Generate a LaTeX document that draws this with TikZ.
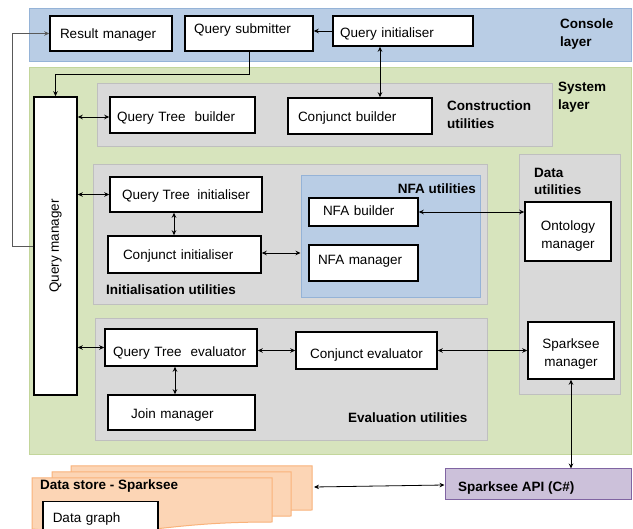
\documentclass[tikz,border=0pt]{standalone}
\usepackage{fontspec}
\usepackage{graphicx}
\setmainfont{Liberation Sans}
\usetikzlibrary{arrows.meta,calc}
\definecolor{consfill}{HTML}{B9CDE5}
\definecolor{consdraw}{HTML}{95B3D7}
\definecolor{sysfill}{HTML}{D7E4BD}
\definecolor{sysdraw}{HTML}{C3D69B}
\definecolor{grfill}{HTML}{D9D9D9}
\definecolor{grdraw}{HTML}{BFBFBF}
\definecolor{apifill}{HTML}{CCC1DA}
\definecolor{apidraw}{HTML}{8064A2}
\definecolor{orfill}{HTML}{FCD5B5}
\definecolor{ordraw}{HTML}{F9B27A}
\begin{document}
\begin{tikzpicture}[x=1pt,y=-1pt,
  font=\fontsize{13.5}{17.5}\selectfont,
  box/.style={draw=black,line width=1.5pt,fill=white,inner sep=0pt,align=center,text height=9.7pt,text depth=0pt},
  lbox/.style={draw=black,line width=1.5pt,fill=white,inner ysep=0pt,align=left,text height=9.7pt,text depth=0pt},
  cont/.style={draw=#1draw,fill=#1fill,line width=1pt,inner sep=0pt},
  lbl/.style={inner sep=0pt,font=\fontsize{13.5}{17.5}\selectfont\bfseries,align=left},
  conn/.style={line width=0.8pt,-{Stealth[length=5pt,width=4.5pt]}},
  biconn/.style={line width=0.8pt,{Stealth[length=5pt,width=4.5pt]}-{Stealth[length=5pt,width=4.5pt]}},
  docshape/.style={draw=ordraw,fill=orfill,line width=1pt}
]
\useasboundingbox (0,0) rectangle (633,529);
\fill[white] (0,0) rectangle (633,529);

% layers
\node[cont=cons,minimum width=602pt,minimum height=53pt] (console) at (330,35.5) {};
\node[cont=sys,minimum width=602pt,minimum height=387pt] (system) at (330,261.5) {};
\node[cont=gr,minimum width=455pt,minimum height=63pt] (constr) at (324.5,115.5) {};
\node[cont=gr,minimum width=394pt,minimum height=140pt] (init) at (290,235) {};
\node[cont=cons,minimum width=179pt,minimum height=122pt] (nfau) at (390.5,237) {};
\node[cont=gr,minimum width=101pt,minimum height=240pt] (datau) at (569.5,275) {};
\node[cont=gr,minimum width=392pt,minimum height=122pt] (evalu) at (291,380) {};

% layer labels
\node[lbl,anchor=north west] (lconsole) at (560,19) {Console\\layer};
\node[lbl,anchor=north west] (lsystem) at (558,82) {System\\layer};
\node[lbl,anchor=north west] (lconstr) at (447,101) {Construction\\utilities};
\node[lbl,anchor=north west] (ldatau) at (534,168) {Data\\utilities};
\node[lbl,anchor=east] (lnfau) at (476,189) {NFA utilities};
\node[lbl,anchor=west] (linit) at (106,290) {Initialisation utilities};
\node[lbl,anchor=west] (leval) at (348,418) {Evaluation utilities};

% console boxes
\node[lbox,inner xsep=10pt,text width=102pt,minimum height=35pt] (rm) at (111,33.5) {Result manager};
\node[lbox,inner xsep=9pt,text width=110pt,text height=18pt,text depth=17pt] (qs) at (249,33.5) {Query submitter};
\node[lbox,inner xsep=7pt,text width=126pt,minimum height=30pt,text height=13.7pt] (qi) at (403,31) {Query initialiser};

% system boxes
\node[draw=black,line width=1.5pt,fill=white,inner sep=0pt,minimum width=43pt,minimum height=298pt] (qm) at (55.5,246) {\rotatebox{90}{Query manager}};
\node[lbox,inner xsep=7pt,text width=131pt,minimum height=36pt,text height=13.7pt] (qtb) at (182.5,115) {Query Tree~ builder};
\node[lbox,inner xsep=10pt,text width=124pt,minimum height=36pt,text height=11.7pt] (cb) at (360,116) {Conjunct builder};
\node[box,minimum width=152pt,minimum height=35pt] (qti) at (186,194.5) {Query Tree~ initialiser};
\node[lbox,inner xsep=15pt,text width=123pt,minimum height=37pt,text height=10.7pt] (ci) at (184.5,254.5) {Conjunct initialiser};
\node[lbox,inner xsep=14pt,text width=81pt,minimum height=28pt,text height=7.7pt] (nb) at (363.5,212) {NFA builder};
\node[lbox,inner xsep=9pt,text width=91pt,minimum height=36pt,text height=3.7pt] (nm) at (363.5,263) {NFA manager};
\node[draw=black,line width=1.5pt,fill=white,inner sep=0pt,minimum width=86pt,minimum height=59pt] (om) at (568,231.5) {\raisebox{-8pt}[0pt][0pt]{\begin{tabular}{@{}c@{}}Ontology\\manager\end{tabular}}};
\node[lbox,inner xsep=8pt,text width=136pt,minimum height=37pt,text height=17.7pt] (qte) at (181,347.5) {Query Tree~ evaluator};
\node[box,minimum width=141pt,minimum height=37pt,text height=16.7pt] (ce) at (366.5,350.5) {Conjunct evaluator};
\node[draw=black,line width=1.5pt,fill=white,inner sep=0pt,minimum width=86pt,minimum height=57pt] (sm) at (571,350.5) {\raisebox{-7pt}[0pt][0pt]{\begin{tabular}{@{}c@{}}Sparksee\\manager\end{tabular}}};
\node[lbox,inner xsep=23pt,text width=101pt,minimum height=35pt,text height=11.7pt] (jm) at (181.5,412.5) {Join manager};

% API
\node[cont=api,minimum width=186pt,minimum height=31pt] (api) at (538,484.5) {};
\node[lbl,anchor=west] (lapi) at (458,488) {Sparksee API (C\#)};

% data store
\draw[docshape] (71,466) -- (312,466) -- (312,510) .. controls (191.5,510) and (191.5,527) .. (71,517) -- cycle;
\draw[docshape] (52,472) -- (291,472) -- (291,516) .. controls (171.5,516) and (171.5,533) .. (52,523) -- cycle;
\draw[docshape] (32,478) -- (272,478) -- (272,522) .. controls (152,522) and (152,539) .. (32,529) -- cycle;
\coordinate (ds) at (314,487);
\node[lbl,anchor=west] (lds) at (40,486) {Data store - Sparksee};
\node[lbox,anchor=north west,inner xsep=10pt,text width=95pt,text height=21pt,text depth=23pt] (dg) at (42,501) {Data graph};

% connectors
\draw[conn] (qi.west) -- (qi.west -| qs.east);
\draw[conn] (qs.south) -- (qs.south |- 0,74) -- (qm.north |- 0,74) -- (qm.north);
\draw[conn,draw=black!65] (qm.west) -- ++(-21,0) |- (rm.west);
\draw[biconn] ([xshift=-23pt]qi.south) -- ([xshift=-23pt]qi.south |- cb.north);
\draw[biconn] (qm.east |- 0,117) -- (qtb.west |- 0,117);
\draw[biconn] (qm.east |- qti.west) -- (qti.west);
\draw[biconn] ([xshift=-12pt]qti.south) -- ([xshift=-12pt]qti.south |- ci.north);
\draw[biconn] (ci.east |- 0,253) -- (nfau.west |- 0,253);
\draw[biconn] (nb.east) -- (nb.east -| om.west);
\draw[biconn] (qm.east |- qte.west) -- (qte.west);
\draw[biconn] (qte.east |- ce.west) -- (ce.west);
\draw[biconn] (ce.east) -- (ce.east -| sm.west);
\draw[biconn] ([xshift=-6pt]qte.south) -- ([xshift=-6pt]qte.south |- jm.north);
\draw[biconn] (sm.south) -- (sm.south |- api.north);
\draw[biconn] (ds) -- (api.west |- 0,485);
\end{tikzpicture}
\end{document}
